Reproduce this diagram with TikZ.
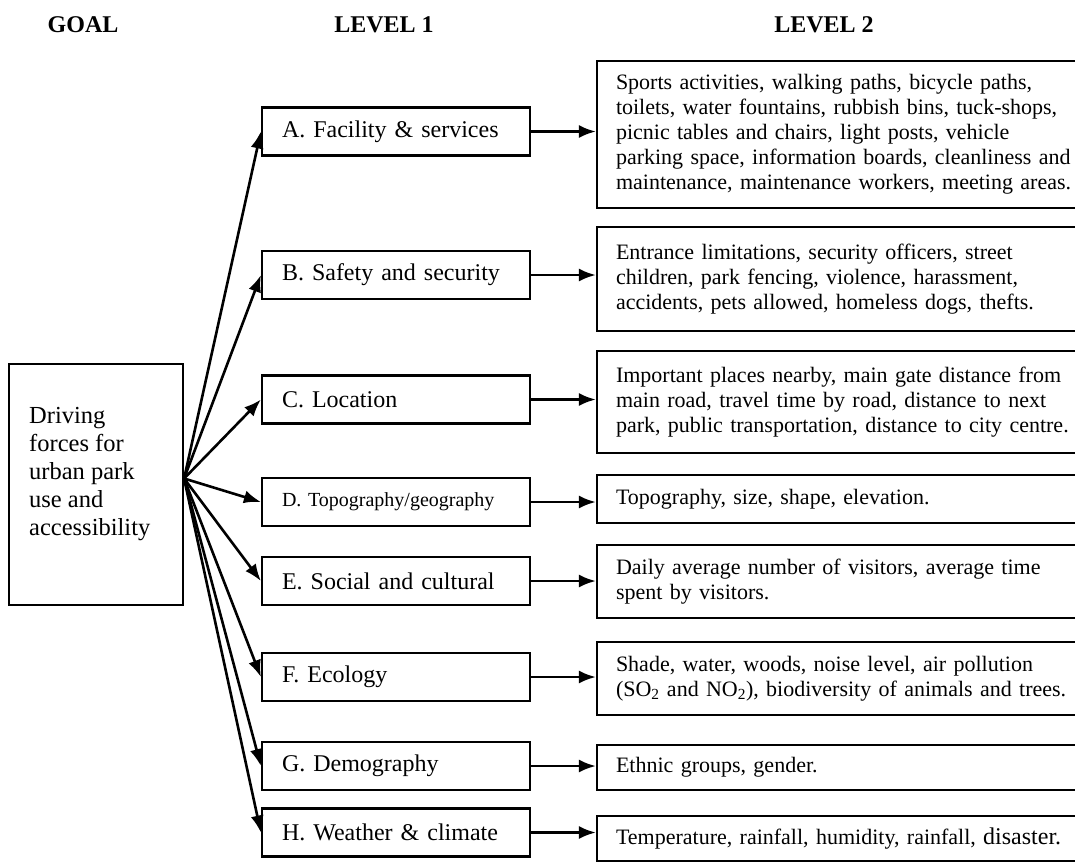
\documentclass[tikz,border=0pt]{standalone}
\usepackage{fontspec}
\setmainfont{Liberation Serif}
\usetikzlibrary{arrows.meta}
\begin{document}
\begin{tikzpicture}[x=1pt,y=-1pt,
  box/.style={draw, line width=2.2pt, rectangle, inner ysep=0pt},
  lone/.style={box, minimum height=48pt, text width=228pt, inner xsep=20pt, align=left, font=\fontsize{24}{28}\selectfont},
  ltwo/.style={box, text width=470pt, inner xsep=19pt, align=left, font=\fontsize{22}{25}\selectfont},
  head/.style={font=\bfseries\fontsize{24}{28}\selectfont, anchor=base},
  arr/.style={line width=2.6pt, -{Latex[length=17pt,width=13pt]}},
]
\useasboundingbox (0,0) rectangle (1075,863);

% headers
\node[head] (hgoal) at (83,32) {GOAL};
\node[head] (hl1) at (384,32) {LEVEL 1};
\node[head] (hl2) at (824,32) {LEVEL 2};

% goal
\node[box, minimum width=174pt, minimum height=241pt] (goal) at (96,484.5) {};
\node[anchor=north west, inner sep=0pt, align=left, font=\fontsize{24.5}{28}\selectfont] (goaltext) at (29,407) {Driving\\forces for\\urban park\\use and\\accessibility};
\coordinate (hub) at ([yshift=6pt]goal.east);

% level 1
\node[lone] (A) at (396,131.5) {A. Facility \& services};
\node[lone] (B) at (396,275) {B. Safety and security};
\node[lone] (C) at (396,399.5) {C. Location};
\node[lone, font=\fontsize{20}{24}\selectfont] (D) at (396,502) {D. Topography/geography};
\node[lone] (E) at (396,581) {E. Social and cultural};
\node[lone] (F) at (396,677) {F. Ecology};
\node[lone] (G) at (396,766) {G. Demography};
\node[lone] (H) at (396,832.5) {H. Weather \& climate};

% level 2
\node[ltwo, minimum height=147pt] (A2) at (851,134.5) {Sports activities, walking paths, bicycle paths,\\toilets, water fountains, rubbish bins, tuck-shops,\\picnic tables and chairs, light posts, vehicle\\parking space, information boards, cleanliness and\\maintenance, maintenance workers, meeting areas.};
\node[ltwo, minimum height=104pt] (B2) at (851,279) {Entrance limitations, security officers, street\\children, park fencing, violence, harassment,\\accidents, pets allowed, homeless dogs, thefts.};
\node[ltwo, minimum height=102pt] (C2) at (851,402) {Important places nearby, main gate distance from\\main road, travel time by road, distance to next\\park, public transportation, distance to city centre.};
\node[ltwo, minimum height=48pt] (D2) at (851,499) {Topography, size, shape, elevation.};
\node[ltwo, minimum height=73pt] (E2) at (851,581.5) {Daily average number of visitors, average time\\spent by visitors.};
\node[ltwo, minimum height=73pt] (F2) at (851,678.5) {Shade, water, woods, noise level, air pollution\\(SO\textsubscript{2} and NO\textsubscript{2}), biodiversity of animals and trees.};
\node[ltwo, minimum height=45pt] (G2) at (851,767.5) {Ethnic groups, gender.};
\node[ltwo, minimum height=45pt] (H2) at (851,838.5) {Temperature, rainfall, humidity, rainfall, {\fontsize{24}{25}\selectfont disaster.}};

% goal -> level 1
\foreach \n in {A,B,C,D,E,F,G,H}
  \draw[arr] (hub) -- (\n.west);

% level 1 -> level 2
\foreach \n in {A,B,C,D,E,F,G,H}
  \draw[arr] (\n.east) -- (\n.east -| \n2.west);
\end{tikzpicture}
\end{document}
